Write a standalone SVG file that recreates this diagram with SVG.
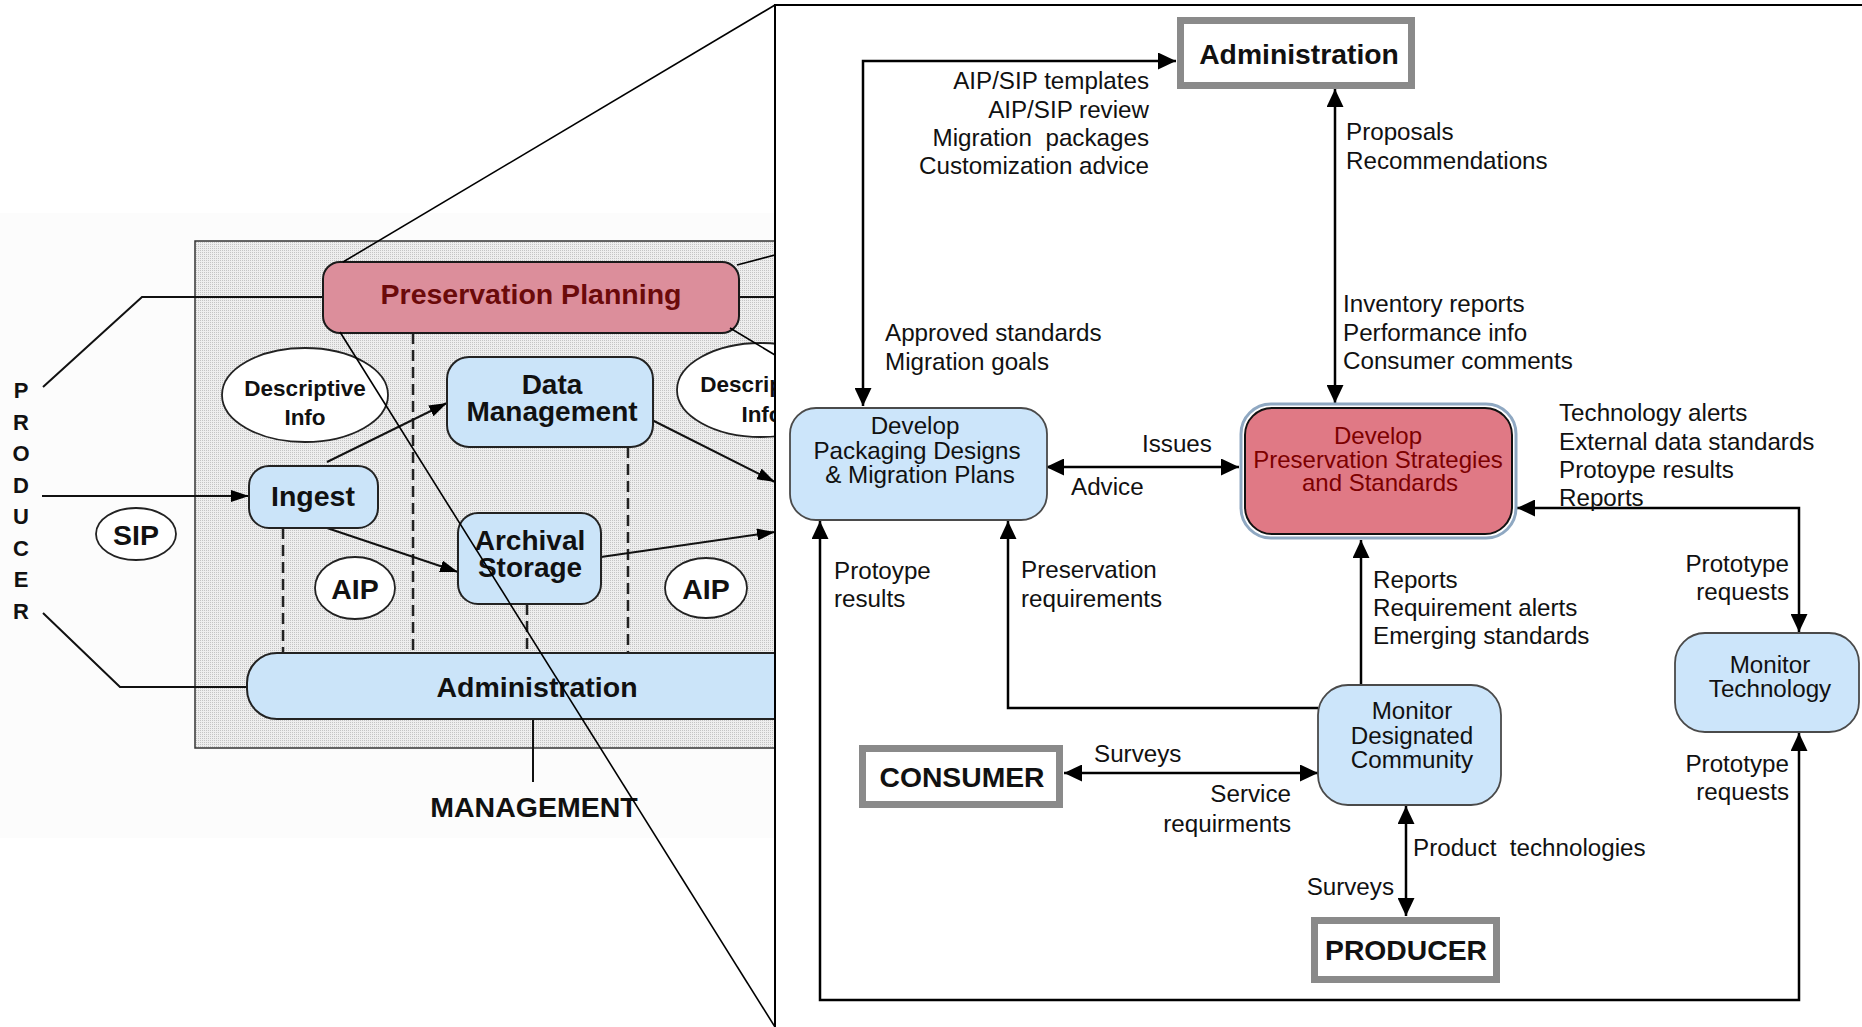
<svg xmlns="http://www.w3.org/2000/svg" width="1862" height="1027" viewBox="0 0 1862 1027">
<defs>
<pattern id="stip" width="2" height="2" patternUnits="userSpaceOnUse">
<rect width="2" height="2" fill="#eeeeee"/>
<rect width="1" height="1" fill="#c4c4c4"/>
</pattern>
<marker id="ah" markerWidth="18" markerHeight="17" refX="18" refY="8.5" orient="auto-start-reverse" markerUnits="userSpaceOnUse"><path d="M0,0 L18,8.5 L0,17 z" fill="#000"/></marker>
<marker id="ahs" markerWidth="18" markerHeight="12" refX="18" refY="6" orient="auto" markerUnits="userSpaceOnUse"><path d="M0,0 L18,6 L0,12 z" fill="#000"/></marker>
</defs>
<style>
.lbl{font-family:"Liberation Sans",Arial,sans-serif;font-size:24.2px;fill:#111}
.end{text-anchor:end}
.ntx{font-family:"Liberation Sans",Arial,sans-serif;font-size:24.2px;fill:#111;text-anchor:middle}
.ptx{font-family:"Liberation Sans",Arial,sans-serif;font-size:24px;fill:#7c0000;text-anchor:middle}
.btx{font-family:"Liberation Sans",Arial,sans-serif;font-weight:bold;text-anchor:middle;fill:#111}
.lt{font-family:"Liberation Sans",Arial,sans-serif;font-weight:bold;text-anchor:middle;fill:#111;font-size:28.5px}
.con{fill:none;stroke:#000;stroke-width:2.5}
.lcon{fill:none;stroke:#111;stroke-width:2}
.blue{fill:#cce5fa;stroke:#4a4a4a;stroke-width:1.8}
.lblue{fill:#cbe4f9;stroke:#222;stroke-width:2}
.ext{fill:#fff;stroke:#8a8a8a;stroke-width:7}
.ell{fill:#fff;stroke:#222;stroke-width:1.8}
.dash{fill:none;stroke:#222;stroke-width:2.5;stroke-dasharray:11 6}
.mag{fill:none;stroke:#000;stroke-width:1.6}
</style>

<g id="overview-background">
<rect x="0" y="213" width="775" height="625" fill="#fcfcfc"/>
<rect x="195" y="241" width="640" height="507" fill="url(#stip)" stroke="#333" stroke-width="1.5"/>
</g>

<g id="overview-connectors">
<path class="lcon" d="M43,387 L142,297 H323"/>
<path class="lcon" d="M43,613 L120,687 H247" stroke-width="2.5"/>
<path class="lcon" d="M739,297 H790"/>
<path class="lcon" d="M533,719 V782" stroke-width="2.5"/>
<path class="dash" d="M413,333 V653 M283,528 V653 M527,604 V653 M628,447 V653"/>
<path class="lcon" d="M42,496 H249" stroke-width="2.5" marker-end="url(#ahs)"/>
<path class="lcon" d="M327,462 L447,403" marker-end="url(#ahs)"/>
<path class="lcon" d="M327,528 L458,572" marker-end="url(#ahs)"/>
<path class="lcon" d="M652,420 L775,482" marker-end="url(#ahs)"/>
<path class="lcon" d="M601,557 L775,532" marker-end="url(#ahs)"/>
</g>

<g id="producer-label">
<text class="btx" font-size="22" x="21" y="398">P</text>
<text class="btx" font-size="22" x="21" y="430">R</text>
<text class="btx" font-size="22" x="21" y="461">O</text>
<text class="btx" font-size="22" x="21" y="493">D</text>
<text class="btx" font-size="22" x="21" y="524">U</text>
<text class="btx" font-size="22" x="21" y="556">C</text>
<text class="btx" font-size="22" x="21" y="587">E</text>
<text class="btx" font-size="22" x="21" y="619">R</text>
</g>

<g id="preservation-planning-overview">
<rect x="323" y="262" width="416" height="71" rx="17" fill="#dc8e9b" stroke="#1a1a1a" stroke-width="2"/>
<text class="lt" x="531" y="304" style="fill:#6b0a0a">Preservation Planning</text>
</g>

<g id="descriptive-info-1">
<ellipse class="ell" cx="305" cy="395" rx="83" ry="47"/>
<text class="btx" font-size="22.5" x="305" y="396">Descriptive</text>
<text class="btx" font-size="22.5" x="305" y="425">Info</text>
</g>

<g id="descriptive-info-2">
<ellipse class="ell" cx="761" cy="390" rx="84" ry="47"/>
<text class="btx" font-size="22.5" x="761" y="392">Descriptive</text>
<text class="btx" font-size="22.5" x="762" y="422">Info</text>
</g>

<g id="data-management">
<rect class="lblue" x="447" y="357" width="206" height="90" rx="22"/>
<text class="lt" x="552" y="394" style="font-size:28px">Data</text>
<text class="lt" x="552" y="421" style="font-size:28px">Management</text>
</g>

<g id="ingest">
<rect class="lblue" x="249" y="466" width="129" height="62" rx="20"/>
<text class="lt" x="313" y="506">Ingest</text>
</g>

<g id="archival-storage">
<rect class="lblue" x="458" y="513" width="143" height="91" rx="20"/>
<text class="lt" x="530" y="550" style="font-size:28px">Archival</text>
<text class="lt" x="530" y="577" style="font-size:28px">Storage</text>
</g>

<g id="sip">
<ellipse class="ell" cx="136" cy="534" rx="40" ry="26"/>
<text class="lt" x="136" y="545">SIP</text>
</g>

<g id="aip-1">
<ellipse class="ell" cx="355" cy="588" rx="40" ry="31"/>
<text class="lt" x="355" y="599">AIP</text>
</g>

<g id="aip-2">
<ellipse class="ell" cx="706" cy="588" rx="41" ry="30"/>
<text class="lt" x="706" y="599">AIP</text>
</g>

<g id="administration-overview">
<rect class="lblue" x="247" y="653" width="580" height="66" rx="30"/>
<text class="lt" x="537" y="697">Administration</text>
</g>

<g id="management-label">
<text class="lt" x="534" y="817">MANAGEMENT</text>
</g>

<g id="magnify-lines">
<path class="mag" d="M343,262 L775,5"/>
<path class="mag" d="M340,332 L775,1027"/>
<path class="mag" d="M737,265 L790,251"/>
<path class="mag" d="M730,328 L790,364"/>
</g>

<g id="detail-panel">
<rect x="775" y="5" width="1100" height="1040" fill="#fff" stroke="#000" stroke-width="2"/>
</g>

<g id="connectors">
<path class="con" d="M1176,61 H863 V406" marker-start="url(#ah)" marker-end="url(#ah)"/>
<path class="con" d="M1335,89 V403" marker-start="url(#ah)" marker-end="url(#ah)"/>
<path class="con" d="M1046,467 H1239" marker-start="url(#ah)" marker-end="url(#ah)"/>
<path class="con" d="M1517,508 H1799 V632" marker-start="url(#ah)" marker-end="url(#ah)"/>
<path class="con" d="M1361,685 V540" marker-end="url(#ah)"/>
<path class="con" d="M1318,708 H1008 V521" marker-end="url(#ah)"/>
<path class="con" d="M820,521 V1000 H1799 V733" marker-start="url(#ah)" marker-end="url(#ah)"/>
<path class="con" d="M1064,773 H1318" marker-start="url(#ah)" marker-end="url(#ah)"/>
<path class="con" d="M1406,806 V916" marker-start="url(#ah)" marker-end="url(#ah)"/>
</g>

<g id="connector-labels">
<text class="lbl end" x="1149" y="89">AIP/SIP templates</text>
<text class="lbl end" x="1149" y="118">AIP/SIP review</text>
<text class="lbl end" x="1149" y="146" style="white-space:pre">Migration  packages</text>
<text class="lbl end" x="1149" y="174">Customization advice</text>
<text class="lbl" x="885" y="341">Approved standards</text>
<text class="lbl" x="885" y="370">Migration goals</text>
<text class="lbl" x="1346" y="140">Proposals</text>
<text class="lbl" x="1346" y="169">Recommendations</text>
<text class="lbl" x="1343" y="312">Inventory reports</text>
<text class="lbl" x="1343" y="341">Performance info</text>
<text class="lbl" x="1343" y="369">Consumer comments</text>
<text class="lbl" x="1559" y="421">Technology alerts</text>
<text class="lbl" x="1559" y="450">External data standards</text>
<text class="lbl" x="1559" y="478">Protoype results</text>
<text class="lbl" x="1559" y="506">Reports</text>
<text class="lbl" x="1142" y="452">Issues</text>
<text class="lbl" x="1071" y="495">Advice</text>
<text class="lbl" x="834" y="579">Protoype</text>
<text class="lbl" x="834" y="607">results</text>
<text class="lbl" x="1021" y="578">Preservation</text>
<text class="lbl" x="1021" y="607">requirements</text>
<text class="lbl" x="1373" y="588">Reports</text>
<text class="lbl" x="1373" y="616">Requirement alerts</text>
<text class="lbl" x="1373" y="644">Emerging standards</text>
<text class="lbl end" x="1789" y="572">Prototype</text>
<text class="lbl end" x="1789" y="600">requests</text>
<text class="lbl end" x="1789" y="772">Prototype</text>
<text class="lbl end" x="1789" y="800">requests</text>
<text class="lbl" x="1094" y="762">Surveys</text>
<text class="lbl end" x="1291" y="802">Service</text>
<text class="lbl end" x="1291" y="832">requirments</text>
<text class="lbl" x="1413" y="856" style="white-space:pre">Product  technologies</text>
<text class="lbl end" x="1394" y="895">Surveys</text>
</g>

<g id="administration">
<rect class="ext" x="1180.5" y="20.5" width="231" height="65"/>
<text class="btx" font-size="28.3" x="1299" y="64">Administration</text>
</g>

<g id="develop-packaging">
<rect class="blue" x="790" y="408" width="257" height="112" rx="26"/>
<text class="ntx" x="915" y="434">Develop</text>
<text class="ntx" x="917" y="459">Packaging Designs</text>
<text class="ntx" x="920" y="483">&amp; Migration Plans</text>
</g>

<g id="develop-preservation-strategies">
<rect x="1241" y="404" width="275" height="134" rx="30" fill="#fff" stroke="#8fa8c2" stroke-width="3"/>
<rect x="1245" y="408" width="267" height="126" rx="27" fill="#e07985" stroke="#111" stroke-width="2"/>
<text class="ptx" x="1378" y="444">Develop</text>
<text class="ptx" x="1378" y="468">Preservation Strategies</text>
<text class="ptx" x="1380" y="491">and Standards</text>
</g>

<g id="monitor-designated-community">
<rect class="blue" x="1318" y="685" width="183" height="120" rx="30"/>
<text class="ntx" x="1412" y="719">Monitor</text>
<text class="ntx" x="1412" y="744">Designated</text>
<text class="ntx" x="1412" y="768">Community</text>
</g>

<g id="monitor-technology">
<rect class="blue" x="1675" y="633" width="184" height="99" rx="30"/>
<text class="ntx" x="1770" y="673">Monitor</text>
<text class="ntx" x="1770" y="697">Technology</text>
</g>

<g id="consumer">
<rect class="ext" x="862.5" y="748.5" width="197" height="56"/>
<text class="btx" font-size="28.3" x="962" y="787">CONSUMER</text>
</g>

<g id="producer">
<rect class="ext" x="1314.5" y="920.5" width="182" height="59"/>
<text class="btx" font-size="28.3" x="1406" y="960">PRODUCER</text>
</g>
</svg>
